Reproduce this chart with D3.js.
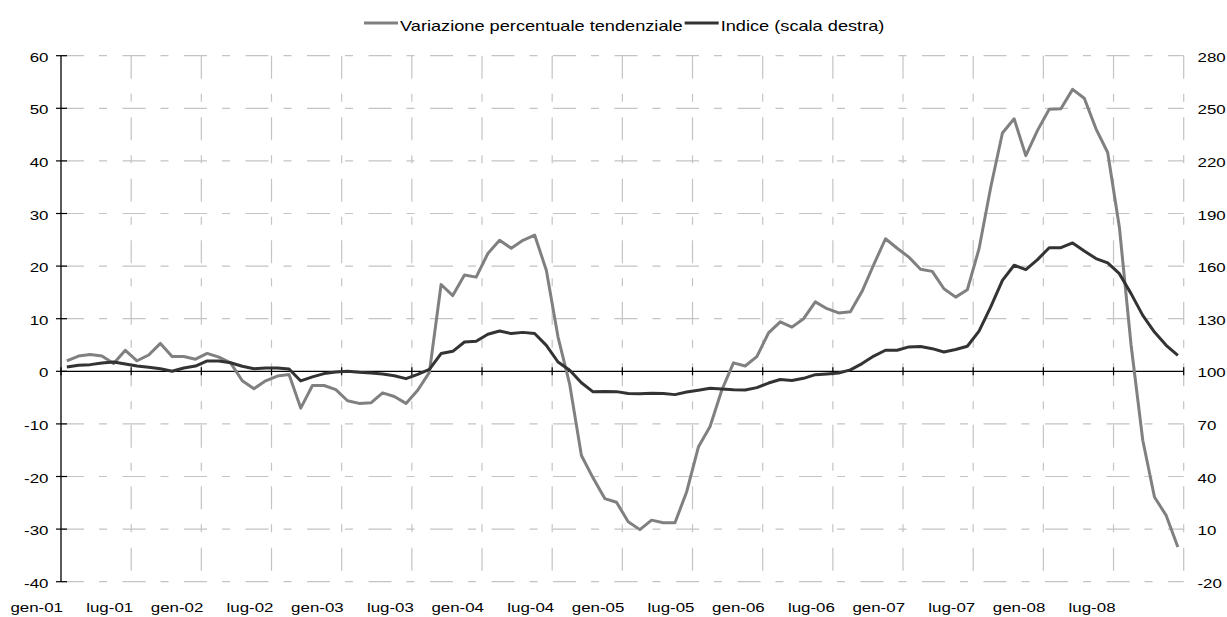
<!DOCTYPE html>
<html>
<head>
<meta charset="utf-8">
<script src="https://cdn.jsdelivr.net/npm/d3@7"></script>
<style>
  html, body { margin: 0; padding: 0; background: #ffffff; }
  svg { display: block; }
  text { font-family: "Liberation Sans", Arial, Helvetica, sans-serif; fill: #000; }
</style>
</head>
<body>
<svg id="chart" width="1227" height="617"></svg>
<script>
// ---- categories (monthly, gen-01 .. dic-08) ----
const monthNames = ["gen","feb","mar","apr","mag","giu","lug","ago","set","ott","nov","dic"];
const years = ["01","02","03","04","05","06","07","08"];
const categories = [];
years.forEach(y => monthNames.forEach(m => categories.push(m + "-" + y)));

// ---- series ----
const variazione = [
  2.0, 2.9, 3.2, 2.9, 1.5, 4.0, 2.0, 3.1, 5.3, 2.8, 2.8, 2.3,
  3.4, 2.7, 1.6, -1.8, -3.3, -1.8, -0.9, -0.6, -7.0, -2.7, -2.7, -3.5,
  -5.6, -6.1, -6.0, -4.1, -4.8, -6.1, -3.6, -0.2, 16.5, 14.4, 18.3, 17.9,
  22.4, 24.9, 23.4, 24.9, 25.9, 19.2, 6.5, -2.5, -16.0, -20.3, -24.2, -24.9,
  -28.6, -30.1, -28.3, -28.8, -28.8, -22.9, -14.4, -10.5, -3.6, 1.6, 1.0, 2.8,
  7.3, 9.4, 8.4, 10.0, 13.2, 11.9, 11.1, 11.3, 15.2, 20.3, 25.2, 23.4,
  21.7, 19.4, 19.0, 15.7, 14.1, 15.5, 23.3, 35.0, 45.3, 48.0, 41.0, 45.8,
  49.8, 49.9, 53.6, 51.9, 46.1, 41.6, 27.4, 5.0, -13.1, -23.9, -27.4, -33.4
];
const indice = [
  102.5, 103.4, 103.8, 104.7, 105.3, 104.2, 103.0, 102.3, 101.5, 100.0, 101.9, 103.0,
  105.9, 105.9, 104.9, 102.9, 101.5, 101.9, 101.9, 101.3, 94.5, 96.8, 98.7, 99.6,
  100.0, 99.4, 99.0, 98.5, 97.5, 95.8, 98.3, 101.1, 110.1, 111.4, 116.7, 117.1,
  121.1, 123.0, 121.5, 122.2, 121.6, 114.8, 105.3, 100.6, 93.5, 88.3, 88.5, 88.4,
  87.3, 87.2, 87.5, 87.3, 86.7, 88.2, 89.2, 90.3, 89.9, 89.5, 89.3, 90.7,
  93.3, 95.3, 94.7, 96.0, 98.1, 98.5, 99.0, 100.8, 104.4, 108.7, 112.0, 112.0,
  113.9, 114.1, 112.9, 111.0, 112.4, 114.3, 122.9, 136.7, 151.9, 160.5, 158.0, 163.7,
  170.5, 170.5, 173.2, 168.6, 164.3, 161.8, 155.7, 144.3, 131.9, 122.4, 114.8, 109.1
];

// ---- axis ticks / labels ----
const leftTicks = [60, 50, 40, 30, 20, 10, 0, -10, -20, -30, -40];
const rightTicks = [280, 250, 220, 190, 160, 130, 100, 70, 40, 10, -20];
const xTickLabels = ["gen-01","lug-01","gen-02","lug-02","gen-03","lug-03","gen-04","lug-04",
                     "gen-05","lug-05","gen-06","lug-06","gen-07","lug-07","gen-08","lug-08"];
const legendLabels = ["Variazione percentuale tendenziale", "Indice (scala destra)"];

// ---- layout ----
const plotL = 61, plotR = 1183.7, plotT = 55.7, plotB = 581.7;
const SX = 1.3; // horizontal stretch of the text in the reference
const grayCol = "#808080", darkCol = "#333333", gridCol = "#c4c4c4";
const dash = "23,15,8,15.5";

const svg = d3.select("#chart");

const x = d3.scaleBand().domain(categories).range([plotL, plotR]).paddingInner(0).paddingOuter(0);
const bw = x.bandwidth();
const xc = c => x(c) + bw / 2;
const yL = d3.scaleLinear().domain([-40, 60]).range([plotB, plotT]);
const yR = d3.scaleLinear().domain([-20, 280]).range([plotB, plotT]);

// boundaries every 6 months (plus right edge)
const boundaries = [];
for (let k = 0; k < categories.length; k += 6) boundaries.push(x(categories[k]));
boundaries.push(plotR);

// gridlines
const grid = svg.append("g");
grid.selectAll("line.h").data(leftTicks.filter(d => d !== 0)).join("line")
  .attr("x1", plotL).attr("x2", plotR)
  .attr("y1", d => yL(d)).attr("y2", d => yL(d))
  .attr("stroke", gridCol).attr("stroke-width", 1.2).attr("stroke-dasharray", dash);
grid.selectAll("line.v").data(boundaries.slice(1)).join("line")
  .attr("x1", d => d).attr("x2", d => d)
  .attr("y1", plotT).attr("y2", plotB)
  .attr("stroke", gridCol).attr("stroke-width", 1.2).attr("stroke-dasharray", dash);

// left axis
const gL = svg.append("g");
gL.append("line").attr("x1", plotL).attr("x2", plotL).attr("y1", plotT).attr("y2", plotB)
  .attr("stroke", "#000").attr("stroke-width", 1.3);
gL.selectAll("line.t").data(leftTicks).join("line")
  .attr("x1", plotL - 5).attr("x2", plotL + 6)
  .attr("y1", d => yL(d)).attr("y2", d => yL(d))
  .attr("stroke", "#000").attr("stroke-width", 1.2);
gL.selectAll("text").data(leftTicks).join("text")
  .attr("transform", d => `translate(48.5,${yL(d) + 6}) scale(${SX},1)`)
  .attr("text-anchor", "end").attr("font-size", 13)
  .text(d => d);

// right axis labels
const gR = svg.append("g");
gR.selectAll("text").data(rightTicks).join("text")
  .attr("transform", d => `translate(1197.5,${yR(d) + 6}) scale(${SX},1)`)
  .attr("text-anchor", "start").attr("font-size", 13)
  .text(d => d);

// x axis (zero line)
const gX = svg.append("g");
gX.append("line").attr("x1", plotL).attr("x2", plotR).attr("y1", yL(0)).attr("y2", yL(0))
  .attr("stroke", "#000").attr("stroke-width", 1.2);
gX.selectAll("line.t").data(boundaries).join("line")
  .attr("x1", d => d).attr("x2", d => d)
  .attr("y1", yL(0) - 4).attr("y2", yL(0) + 4)
  .attr("stroke", "#000").attr("stroke-width", 1.2);
gX.selectAll("text").data(xTickLabels).join("text")
  .attr("transform", d => `translate(${x(d) + 2},611.5) scale(${SX},1)`)
  .attr("text-anchor", "end").attr("font-size", 13)
  .text(d => d);

// series lines
const lineL = d3.line().x((d, i) => xc(categories[i])).y(d => yL(d));
const lineR = d3.line().x((d, i) => xc(categories[i])).y(d => yR(d));
svg.append("path").attr("d", lineL(variazione))
  .attr("fill", "none").attr("stroke", grayCol).attr("stroke-width", 3)
  .attr("stroke-linejoin", "round");
svg.append("path").attr("d", lineR(indice))
  .attr("fill", "none").attr("stroke", darkCol).attr("stroke-width", 3)
  .attr("stroke-linejoin", "round");

// legend
const leg = svg.append("g");
const legY = 31, swY = 23;
let cx = 364;
legendLabels.forEach((lab, i) => {
  leg.append("line").attr("x1", cx).attr("x2", cx + 34).attr("y1", swY).attr("y2", swY)
    .attr("stroke", i === 0 ? grayCol : darkCol).attr("stroke-width", 3);
  const t = leg.append("text")
    .attr("transform", `translate(${cx + 36},${legY}) scale(${SX},1)`)
    .attr("font-size", 14).text(lab);
  const w = t.node().getComputedTextLength() * SX;
  cx = cx + 36 + w + 2;
});
</script>
</body>
</html>
